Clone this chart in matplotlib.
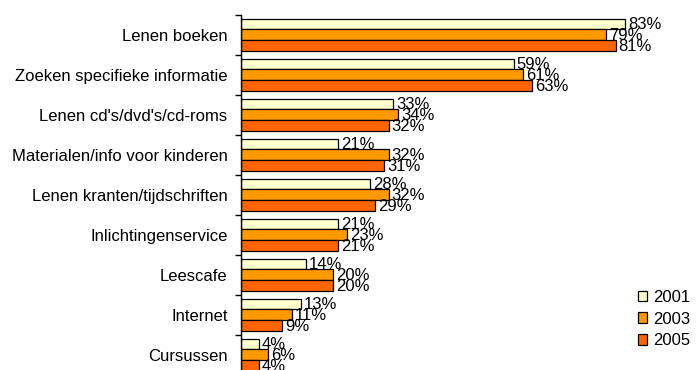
import numpy as np
import matplotlib
matplotlib.use("Agg")
import matplotlib.pyplot as plt

plt.rcParams['font.family'] = ['Liberation Sans', 'DejaVu Sans']

# data, top to bottom as in the chart
categories = [
    "Lenen boeken",
    "Zoeken specifieke informatie",
    "Lenen cd's/dvd's/cd-roms",
    "Materialen/info voor kinderen",
    "Lenen kranten/tijdschriften",
    "Inlichtingenservice",
    "Leescafe",
    "Internet",
    "Cursussen",
]
years = ["2001", "2003", "2005"]
v2001 = [83, 59, 33, 21, 28, 21, 14, 13, 4]
v2003 = [79, 61, 34, 32, 32, 23, 20, 11, 6]
v2005 = [81, 63, 32, 31, 29, 21, 20, 9, 4]
colors = ["#FFFFCC", "#FF9900", "#FF6600"]

W, H = 700, 370
fig = plt.figure(figsize=(W / 100, H / 100), dpi=100)

px_per_pct = 4.63
xmax = 90
left, top = 240.7, 14.7
ax = fig.add_axes([left / W, (H - top - 360) / H, xmax * px_per_pct / W, 360 / H])

y = np.arange(len(categories))
bh = 0.267
fs = 12
series = [v2001, v2003, v2005]
for k, (vals, col, yr) in enumerate(zip(series, colors, years)):
    pos = y + (k - 1) * bh
    ax.barh(pos, vals, height=bh, color=col, edgecolor="black",
            linewidth=0.9, label=yr)
    for p, v in zip(pos, vals):
        ax.text(v + 0.6, p + 0.02, f"{v}%", va="center", ha="left",
                fontsize=fs, color="black")

ax.set_xlim(0, xmax)
ax.set_ylim(len(categories) - 0.5, -0.5)

for s in ["top", "right", "bottom"]:
    ax.spines[s].set_visible(False)
ax.spines["left"].set_color("black")
ax.spines["left"].set_linewidth(1.0)

ax.set_xticks([])
ax.set_yticks(y)
ax.set_yticklabels(categories, fontsize=fs)
ax.tick_params(axis="y", which="major", length=0, pad=9.5)
ax.set_yticks(np.arange(-0.5, len(categories), 1.0), minor=True)
ax.tick_params(axis="y", which="minor", length=4, width=1, color="black",
               direction="out")

fig.legend(loc="center left", bbox_to_anchor=(638 / W, 1 - 319 / H),
           frameon=False, fontsize=fs, borderpad=0, borderaxespad=0,
           handlelength=0.55, handleheight=0.6, handletextpad=0.35,
           labelspacing=0.4)

fig.savefig("out.png", dpi=100)
